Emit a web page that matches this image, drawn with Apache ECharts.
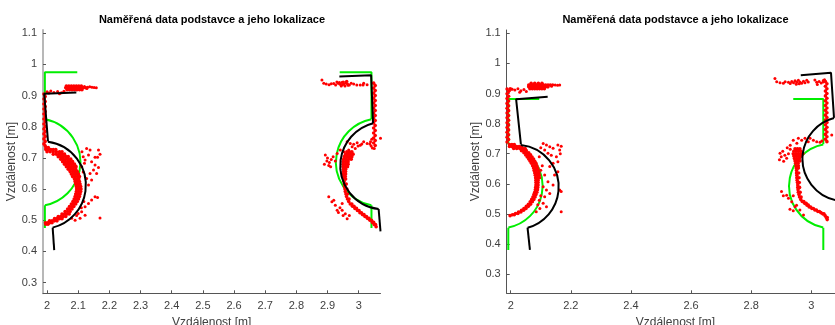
<!DOCTYPE html>
<html><head><meta charset="utf-8">
<script src="https://cdn.jsdelivr.net/npm/echarts@6/dist/echarts.min.js"></script>
<style>html,body{margin:0;padding:0;background:#fff}#c{width:835px;height:325px}</style>
</head><body><div id="c"></div>
<script>
const titleText = 'Naměřená data podstavce a jeho lokalizace';
const axisNameText = 'Vzdálenost [m]';
const xTickValsLeft = [2, 2.1, 2.2, 2.3, 2.4, 2.5, 2.6, 2.7, 2.8, 2.9, 3];
const xTickLabsLeft = ['2', '2.1', '2.2', '2.3', '2.4', '2.5', '2.6', '2.7', '2.8', '2.9', '3'];
const xTickValsRight = [2, 2.2, 2.4, 2.6, 2.8, 3];
const xTickLabsRight = ['2', '2.2', '2.4', '2.6', '2.8', '3'];
const yTickVals = [0.3, 0.4, 0.5, 0.6, 0.7, 0.8, 0.9, 1, 1.1];
const yTickLabs = ['0.3', '0.4', '0.5', '0.6', '0.7', '0.8', '0.9', '1', '1.1'];

// ---- model (green) and localisation (black): straight parts [x,y], arcs [cx, cy, r, startDeg, endDeg]
const greenL1Top = [[2.097, 0.975], [1.993, 0.975], [1.993, 0.825]];
const greenL1Bot = [[1.993, 0.548], [1.993, 0.475]];
const greenL2Top = [[2.939, 0.975], [3.041, 0.975], [3.041, 0.825]];
const greenL2Bot = [[3.041, 0.548], [3.041, 0.475]];
const blackL1Top = [[2.094, 0.910], [1.991, 0.906], [2.003, 0.753]];
const blackL1Bot = [[2.018, 0.476], [2.023, 0.404]];
const blackL2Top = [[2.938, 0.961], [3.040, 0.965], [3.046, 0.812]];
const blackL2Bot = [[3.064, 0.536], [3.070, 0.464]];
const greenArcsLeft = [[1.9665, 0.686, 0.1405, -79, 79], [3.0675, 0.686, 0.1405, 101, 259]];
const blackArcsLeft = [[1.984, 0.6126, 0.1405, -76.1, 82.3], [3.0814, 0.6752, 0.1405, 104.5, 262.9]];

const greenR1Top = [[2.095, 0.882], [1.992, 0.882], [1.992, 0.731]];
const greenR1Bot = [[1.992, 0.454], [1.992, 0.380]];
const greenR2Top = [[2.940, 0.882], [3.040, 0.882], [3.040, 0.731]];
const greenR2Bot = [[3.040, 0.454], [3.040, 0.380]];
const blackR1Top = [[2.123, 0.889], [2.018, 0.881], [2.034, 0.731]];
const blackR1Bot = [[2.056, 0.454], [2.064, 0.380]];
const blackR2Top = [[2.965, 0.961], [3.0656, 0.969], [3.0756, 0.819]];
const blackR2Bot = [[3.094, 0.543], [3.099, 0.472]];
const greenArcsRight = [[1.9655, 0.5925, 0.1405, -79, 79], [3.0665, 0.5925, 0.1405, 101, 259]];
const blackArcsRight = [[2.0191, 0.5893, 0.1405, -74.6, 84.0], [3.1112, 0.6828, 0.1405, 104.65, 263.0]];

// ---- measured points (red). Rows: [y, x1, x2, ...]
const redL1Rows = [
[0.905,1.990],[0.897,1.994],[0.889,1.990],[0.881,1.994],[0.873,1.990],[0.865,1.994],[0.857,1.990],[0.849,1.994],
[0.841,1.990],[0.833,1.994],[0.825,1.990],[0.817,1.994],[0.809,1.990],[0.801,1.994],[0.793,1.990],[0.785,1.994],
[0.777,1.990],[0.769,1.994],[0.761,1.990],[0.753,1.994],[0.745,1.990],[0.739,1.994],
[0.919,2.064,2.072,2.080,2.088,2.096,2.104,2.112],
[0.925,2.060,2.068,2.076,2.084,2.092,2.100,2.108,2.116,2.124],
[0.931,2.062,2.070,2.078,2.086,2.094,2.102,2.110],
[0.733,1.996,2.004],
[0.727,1.996,2.004,2.012,2.020,2.028],
[0.720,2.000,2.010,2.020,2.030,2.040,2.048],
[0.712,2.020,2.030,2.040,2.048,2.056],
[0.704,2.036,2.044,2.052,2.060,2.068],
[0.696,2.044,2.052,2.060,2.068,2.076],
[0.688,2.050,2.058,2.066,2.074,2.082],
[0.680,2.056,2.064,2.072,2.080,2.088],
[0.672,2.062,2.070,2.078,2.086,2.093],
[0.664,2.068,2.076,2.084,2.092],
[0.656,2.074,2.082,2.090,2.097],
[0.648,2.078,2.086,2.094,2.101],
[0.640,2.082,2.090,2.098,2.104],
[0.632,2.088,2.095,2.102],
[0.624,2.090,2.097,2.104],
[0.616,2.092,2.099,2.106],
[0.608,2.094,2.101,2.108],
[0.600,2.095,2.102,2.109],
[0.592,2.094,2.101,2.108],
[0.584,2.092,2.099,2.106],
[0.576,2.090,2.097,2.104],
[0.568,2.087,2.094,2.101],
[0.560,2.083,2.090,2.097],
[0.552,2.078,2.085,2.092],
[0.544,2.072,2.079,2.086],
[0.536,2.066,2.073,2.080],
[0.528,2.058,2.066,2.074],
[0.520,2.048,2.056,2.064,2.071],
[0.512,2.036,2.044,2.052,2.060],
[0.505,2.024,2.032,2.040,2.048],
[0.498,2.008,2.016,2.024,2.032],
[0.492,1.995,2.002,2.009,2.016],
[0.487,1.996,2.003]
];
const redL1Dots = [
[2.000,0.912],[2.012,0.915],[2.022,0.910],[2.034,0.913],[2.046,0.909],[2.054,0.914],[2.040,0.906],[2.006,0.908],
[2.130,0.927],[2.137,0.928],[2.144,0.927],[2.151,0.926],[2.158,0.925],[2.120,0.929],[2.128,0.923],
[2.127,0.730],[2.138,0.725],[2.165,0.725],[2.170,0.712],[2.162,0.702],[2.133,0.709],[2.122,0.693],[2.143,0.688],
[2.154,0.677],[2.165,0.669],[2.149,0.661],[2.159,0.650],[2.138,0.650],[2.127,0.634],[2.143,0.629],[2.133,0.613],
[2.154,0.575],[2.162,0.573],[2.143,0.565],[2.133,0.554],[2.122,0.543],[2.111,0.527],[2.100,0.522],[2.122,0.516],
[2.170,0.507],[2.106,0.506],[2.090,0.500],[2.079,0.506],[2.116,0.704],[2.111,0.672],[2.154,0.702],[2.112,0.720],
[2.120,0.683],[2.116,0.655],[2.118,0.560],[2.110,0.540],[2.095,0.515]
];

const redL2Rows = [
[0.940,3.048],[0.932,3.053],[0.924,3.048],[0.916,3.053],[0.908,3.048],[0.900,3.053],[0.892,3.048],[0.884,3.053],
[0.876,3.048],[0.868,3.053],[0.860,3.048],[0.852,3.053],[0.844,3.048],[0.836,3.053],[0.828,3.048],[0.820,3.053],
[0.812,3.048],[0.804,3.053],[0.796,3.048],[0.788,3.053],[0.780,3.048],[0.772,3.053],[0.764,3.048],[0.756,3.053],
[0.748,3.048],[0.740,3.053],
[0.720,2.962,2.970,2.978],
[0.712,2.958,2.966,2.974,2.982],
[0.704,2.954,2.962,2.970,2.978],
[0.696,2.952,2.960,2.968,2.976],
[0.688,2.950,2.958,2.966],
[0.680,2.950,2.958,2.966],
[0.672,2.950,2.957,2.964],
[0.664,2.951,2.958],
[0.656,2.951,2.958],
[0.648,2.951,2.958],
[0.640,2.951,2.957],
[0.632,2.952,2.958],
[0.624,2.953],
[0.616,2.954,2.960],
[0.608,2.955],
[0.600,2.956,2.962],
[0.592,2.957],
[0.584,2.959,2.964],
[0.576,2.961],
[0.568,2.964,2.969],
[0.560,2.968],
[0.552,2.973,2.978],
[0.545,2.980,2.985],
[0.538,2.988,2.993],
[0.531,2.996,3.001],
[0.524,3.004,3.009],
[0.518,3.012,3.017],
[0.512,3.020,3.025],
[0.506,3.028,3.033],
[0.500,3.036,3.041],
[0.493,3.044,3.048],
[0.486,3.050,3.054],
[0.479,3.056]
];
const redL2Dots = [
[2.882,0.950],[2.888,0.940],[2.896,0.937],[2.905,0.935],[2.912,0.938],[2.920,0.939],[2.926,0.934],[2.934,0.940],
[2.940,0.936],[2.946,0.942],[2.952,0.937],[2.958,0.944],[2.964,0.938],[2.970,0.934],[2.944,0.931],[2.956,0.931],
[2.962,0.946],[2.976,0.940],[2.984,0.937],[2.994,0.934],[3.005,0.934],[3.014,0.934],[3.016,0.940],[3.027,0.935],
[2.930,0.944],[2.950,0.944],[2.938,0.942],[2.948,0.935],[2.960,0.940],[2.966,0.933],
[3.036,0.745],[3.040,0.738],[3.044,0.732],[3.050,0.730],[3.038,0.752],[3.042,0.760],[3.070,0.763],
[2.963,0.752],[2.973,0.746],[2.984,0.744],[2.995,0.749],[3.005,0.741],[3.016,0.752],[3.027,0.746],[2.979,0.736],
[2.989,0.730],[2.941,0.725],[2.952,0.720],[2.968,0.725],[2.931,0.714],[3.010,0.745],[2.998,0.738],
[2.893,0.709],[2.900,0.700],[2.898,0.690],[2.906,0.685],[2.890,0.680],[2.912,0.695],[2.918,0.704],[2.904,0.676],
[2.925,0.690],[2.910,0.672],
[2.904,0.575],[2.920,0.564],[2.925,0.548],[2.947,0.554],[2.947,0.532],[2.914,0.559],[2.931,0.532],[2.940,0.540],
[2.957,0.521],[2.963,0.505],[2.950,0.515],[2.935,0.525],[2.970,0.515]
];

const redR1Rows = [
[0.915,1.988],[0.907,1.993],[0.899,1.988],[0.891,1.993],[0.883,1.988],[0.875,1.993],[0.867,1.988],[0.859,1.993],
[0.851,1.988],[0.843,1.993],[0.835,1.988],[0.827,1.993],[0.819,1.988],[0.811,1.993],[0.803,1.988],[0.795,1.993],
[0.787,1.988],[0.779,1.993],[0.771,1.988],[0.763,1.993],[0.755,1.988],[0.747,1.993],[0.739,1.988],
[0.916,2.064,2.072,2.080,2.088,2.096,2.104,2.112],
[0.922,2.060,2.068,2.076,2.084,2.092,2.100,2.108,2.116,2.124],
[0.928,2.060,2.068,2.076,2.084,2.092,2.100,2.108,2.116,2.124,2.132],
[0.934,2.068,2.080,2.092,2.104],
[0.730,1.996,2.004,2.012],
[0.724,1.996,2.004,2.012,2.020,2.028,2.036],
[0.717,2.010,2.020,2.030,2.040,2.048],
[0.710,2.036,2.044,2.052],
[0.703,2.044,2.052,2.060],
[0.696,2.050,2.058,2.066],
[0.689,2.055,2.063,2.071],
[0.682,2.060,2.068,2.076],
[0.675,2.065,2.073,2.080],
[0.668,2.069,2.077,2.084],
[0.660,2.073,2.080,2.087],
[0.652,2.076,2.083,2.090],
[0.644,2.078,2.085,2.092],
[0.636,2.080,2.087,2.094],
[0.628,2.082,2.089,2.095],
[0.620,2.083,2.090,2.096],
[0.612,2.084,2.091],
[0.604,2.084,2.091],
[0.596,2.084,2.091],
[0.588,2.083,2.090],
[0.580,2.082,2.089],
[0.572,2.080,2.087],
[0.564,2.077,2.084],
[0.556,2.074,2.081],
[0.548,2.070,2.077],
[0.540,2.065,2.072],
[0.532,2.059,2.066],
[0.525,2.052,2.059],
[0.518,2.044,2.051],
[0.512,2.036,2.043],
[0.506,2.026,2.034],
[0.501,2.016,2.024],
[0.497,2.006,2.012],
[0.494,1.998]
];
const redR1Dots = [
[1.998,0.917],[2.005,0.914],[1.996,0.910],
[2.002,0.915],[2.014,0.912],[2.024,0.916],[2.034,0.909],[2.044,0.913],[2.052,0.907],[2.030,0.904],
[2.140,0.929],[2.148,0.928],[2.156,0.927],[2.163,0.928],[2.136,0.924],
[2.108,0.734],[2.119,0.729],[2.130,0.723],[2.141,0.718],[2.157,0.729],[2.163,0.712],[2.113,0.712],[2.124,0.701],
[2.135,0.695],[2.152,0.690],[2.157,0.673],[2.141,0.668],[2.130,0.657],[2.157,0.640],[2.146,0.629],[2.113,0.629],
[2.124,0.607],[2.141,0.596],[2.119,0.579],[2.130,0.568],[2.113,0.557],[2.163,0.579],[2.168,0.574],[2.108,0.535],
[2.119,0.524],[2.168,0.507],[2.097,0.518],[2.085,0.507],[2.168,0.725],[2.165,0.700],[2.100,0.720],[2.095,0.690],
[2.105,0.660],[2.100,0.645],[2.108,0.590],[2.100,0.560],[2.095,0.545],[2.090,0.530]
];

const redR2Rows = [
[0.940,3.047],[0.932,3.052],[0.924,3.047],[0.916,3.052],[0.908,3.047],[0.900,3.052],[0.892,3.047],[0.884,3.052],
[0.876,3.047],[0.868,3.052],[0.860,3.047],[0.852,3.052],[0.844,3.047],[0.836,3.052],[0.828,3.047],[0.820,3.052],
[0.812,3.047],[0.804,3.052],[0.796,3.047],[0.788,3.052],[0.780,3.047],[0.772,3.052],[0.764,3.047],[0.756,3.052],
[0.748,3.047],[0.740,3.052],
[0.716,2.946,2.954,2.962],
[0.708,2.942,2.950,2.958,2.966],
[0.700,2.940,2.948,2.956,2.964,2.972],
[0.692,2.942,2.950,2.958,2.966],
[0.684,2.944,2.952,2.960],
[0.676,2.946,2.954,2.962],
[0.668,2.948,2.956],
[0.660,2.949,2.957],
[0.652,2.950,2.957],
[0.644,2.951],
[0.636,2.951,2.958],
[0.628,2.952],
[0.620,2.952,2.959],
[0.612,2.953],
[0.604,2.954,2.960],
[0.596,2.955],
[0.588,2.955,2.961],
[0.580,2.956],
[0.572,2.957,2.963],
[0.564,2.959],
[0.556,2.961,2.966],
[0.548,2.965],
[0.541,2.970,2.975],
[0.535,2.978,2.983],
[0.529,2.986,2.990],
[0.523,2.993,2.998],
[0.518,3.002,3.007],
[0.513,3.012,3.017],
[0.508,3.022,3.027],
[0.504,3.032],
[0.500,3.038,3.042],
[0.494,3.046],
[0.488,3.050,3.053],
[0.481,3.053]
];
const redR2Dots = [
[2.879,0.950],[2.885,0.939],[2.896,0.936],[2.907,0.934],[2.913,0.939],[2.924,0.937],[2.930,0.933],[2.935,0.940],
[2.941,0.936],[2.946,0.942],[2.952,0.937],[2.957,0.944],[2.962,0.938],[2.968,0.934],[2.974,0.941],[2.979,0.936],
[2.950,0.931],[2.960,0.932],[2.985,0.944],[2.990,0.938],
[3.012,0.945],[3.018,0.937],[3.026,0.940],[3.033,0.935],[3.020,0.930],[3.040,0.938],[3.040,0.943],[3.044,0.946],
[3.068,0.762],
[2.940,0.745],[2.957,0.751],[2.968,0.745],[2.979,0.751],[2.990,0.740],[2.996,0.751],[3.007,0.745],[3.018,0.740],
[3.029,0.738],[3.035,0.742],[2.952,0.735],[2.930,0.728],
[2.896,0.701],[2.905,0.708],[2.900,0.690],[2.912,0.695],[2.918,0.685],[2.894,0.680],[2.924,0.700],[2.908,0.675],
[2.930,0.715],[2.920,0.720],
[2.901,0.574],[2.918,0.562],[2.924,0.552],[2.935,0.540],[2.946,0.524],[2.929,0.515],[2.962,0.513],[2.974,0.496],
[2.907,0.560],[2.940,0.560],[2.951,0.529],[2.940,0.510]
];

// ---------------------------------------------------------------
function rowsToPoints(rows) {
  const out = [];
  rows.forEach(r => { for (let i = 1; i < r.length; i++) out.push([r[i], r[0]]); });
  return out;
}
const FONT = '"Liberation Sans", Arial, Helvetica, sans-serif';
const GREEN = '#00ee00', BLACK = '#000000', RED = '#ff0000';
const labelFmt = (vals, labs) => v => { const i = vals.findIndex(t => Math.abs(t - v) < 1e-9); return i >= 0 ? labs[i] : ''; };

function xAxisCfg(grid, min, max, vals, labs) {
  return {
    type: 'value', gridIndex: grid, min: min, max: max,
    name: axisNameText, nameLocation: 'middle', nameGap: 20,
    nameTextStyle: { color: '#404040', fontSize: 12, fontFamily: FONT },
    axisLine: { show: true, onZero: false, lineStyle: { color: '#555', width: 1 } },
    axisTick: { show: true, inside: true, length: 3, customValues: vals, lineStyle: { color: '#555' } },
    axisLabel: { show: true, customValues: vals, formatter: labelFmt(vals, labs), color: '#404040', fontSize: 11, fontFamily: FONT, margin: 7 },
    splitLine: { show: false }
  };
}
function yAxisCfg(grid, min, max, lineColor, lineWidth) {
  return {
    type: 'value', gridIndex: grid, min: min, max: max,
    name: axisNameText, nameLocation: 'middle', nameGap: 22,
    nameTextStyle: { color: '#404040', fontSize: 12, fontFamily: FONT },
    axisLine: { show: true, onZero: false, lineStyle: { color: lineColor, width: lineWidth } },
    axisTick: { show: true, inside: true, length: 3, customValues: yTickVals, lineStyle: { color: '#555' } },
    axisLabel: { show: true, customValues: yTickVals, formatter: labelFmt(yTickVals, yTickLabs), color: '#404040', fontSize: 11, fontFamily: FONT, margin: 6 },
    splitLine: { show: false }
  };
}
function lineSeries(gi, data, color, z) {
  return { type: 'line', xAxisIndex: gi, yAxisIndex: gi, data: data, symbol: 'none', showSymbol: false,
    lineStyle: { color: color, width: 2 }, itemStyle: { color: color }, clip: true, z: z, silent: true, animation: false };
}
function arcSeries(gi, data, color, z) {
  return { type: 'custom', xAxisIndex: gi, yAxisIndex: gi, data: data, clip: true, z: z, silent: true, animation: false,
    renderItem: function (params, api) {
      const c = api.coord([api.value(0), api.value(1)]);
      const r = api.size([api.value(2), 0])[0];
      const a1 = api.value(3) * Math.PI / 180, a2 = api.value(4) * Math.PI / 180;
      return { type: 'arc', shape: { cx: c[0], cy: c[1], r: r, startAngle: -a2, endAngle: -a1, clockwise: true },
        style: { stroke: color, lineWidth: 2, fill: 'none' } };
    } };
}
function scatterSeries(gi, data, size, z) {
  return { type: 'scatter', xAxisIndex: gi, yAxisIndex: gi, data: data, symbol: 'circle', symbolSize: size,
    itemStyle: { color: RED, opacity: 1 }, z: z, silent: true, animation: false, clip: true };
}

const chart = echarts.init(document.getElementById('c'), null, { renderer: 'canvas' });
chart.setOption({
  animation: false,
  backgroundColor: '#ffffff',
  textStyle: { fontFamily: FONT },
  title: [
    { text: titleText, left: 212, top: 14, padding: 0, textAlign: 'center', textStyle: { fontSize: 11, fontWeight: 'bold', color: '#000', fontFamily: FONT } },
    { text: titleText, left: 675.5, top: 14, padding: 0, textAlign: 'center', textStyle: { fontSize: 11, fontWeight: 'bold', color: '#000', fontFamily: FONT } }
  ],
  grid: [
    { left: 43, top: 30, width: 337.5, height: 263.3, containLabel: false, outerBoundsMode: 'none' },
    { left: 506.7, top: 30, width: 337.5, height: 263.3, containLabel: false, outerBoundsMode: 'none' }
  ],
  xAxis: [
    xAxisCfg(0, 1.987, 3.070, xTickValsLeft, xTickLabsLeft),
    xAxisCfg(1, 1.9867, 3.1095, xTickValsRight, xTickLabsRight)
  ],
  yAxis: [
    yAxisCfg(0, 0.2655, 1.1105, '#b8b8b8', 2),
    yAxisCfg(1, 0.236, 1.111, '#555', 1)
  ],
  series: [
    lineSeries(0, greenL1Top, GREEN, 2), lineSeries(0, greenL1Bot, GREEN, 2),
    lineSeries(0, greenL2Top, GREEN, 2), lineSeries(0, greenL2Bot, GREEN, 2),
    arcSeries(0, greenArcsLeft, GREEN, 2),
    scatterSeries(0, rowsToPoints(redL1Rows).concat(rowsToPoints(redL2Rows)), 3.6, 3),
    scatterSeries(0, redL1Dots.concat(redL2Dots), 3, 3),
    lineSeries(0, blackL1Top, BLACK, 4), lineSeries(0, blackL1Bot, BLACK, 4),
    lineSeries(0, blackL2Top, BLACK, 4), lineSeries(0, blackL2Bot, BLACK, 4),
    arcSeries(0, blackArcsLeft, BLACK, 4),

    lineSeries(1, greenR1Top, GREEN, 2), lineSeries(1, greenR1Bot, GREEN, 2),
    lineSeries(1, greenR2Top, GREEN, 2), lineSeries(1, greenR2Bot, GREEN, 2),
    arcSeries(1, greenArcsRight, GREEN, 2),
    scatterSeries(1, rowsToPoints(redR1Rows).concat(rowsToPoints(redR2Rows)), 3.6, 3),
    scatterSeries(1, redR1Dots.concat(redR2Dots), 3, 3),
    lineSeries(1, blackR1Top, BLACK, 4), lineSeries(1, blackR1Bot, BLACK, 4),
    lineSeries(1, blackR2Top, BLACK, 4), lineSeries(1, blackR2Bot, BLACK, 4),
    arcSeries(1, blackArcsRight, BLACK, 4)
  ]
});
</script>
</body></html>
